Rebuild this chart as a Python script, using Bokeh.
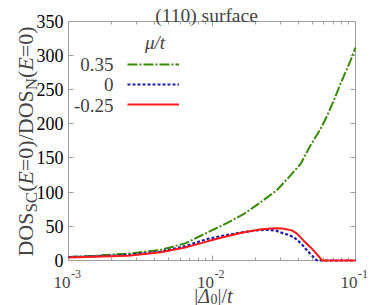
import math
from bokeh.plotting import figure
from bokeh.models import (Label, LogAxis, LinearAxis, Legend, LegendItem,
                          FixedTicker, Range1d)
from bokeh.embed import file_html
from bokeh.resources import INLINE

# ---------------- data ----------------
delta_p035 = [0.001, 0.0015, 0.0026, 0.0044, 0.0065, 0.0093, 0.0125, 0.0167,
              0.0218, 0.0284, 0.0334, 0.0414, 0.0485, 0.0570, 0.0636, 0.0706,
              0.0785, 0.0923, 0.1]
dos_p035 = [5, 7, 10, 15.6, 25, 41, 54, 68, 85, 103, 119, 141, 168, 192, 212,
            234, 258, 292, 311]

delta_0 = [0.001, 0.0015, 0.0026, 0.0044, 0.0065, 0.0093, 0.0125, 0.0167,
           0.0205, 0.0243, 0.028, 0.031, 0.034, 0.0372, 0.042, 0.046, 0.0505,
           0.054, 0.07, 0.1]
dos_0 = [5, 6, 8, 13, 21, 31.5, 37, 41.5, 44, 45, 43.5, 40, 37.5, 34, 24.4,
         14.6, 5.8, 0, 0, 0]

delta_m025 = [0.001, 0.0015, 0.0026, 0.0044, 0.0065, 0.0093, 0.0125, 0.0167,
              0.0215, 0.027, 0.031, 0.036, 0.0393, 0.0435, 0.0485, 0.0535,
              0.0586, 0.07, 0.1]
dos_m025 = [4.5, 5.5, 7, 12, 19, 28, 35, 41.4, 45.3, 47.3, 46.8, 44, 39, 29,
            19.5, 9.8, 0, 0, 0]

mu_labels = ["0.35", "0", "-0.25"]
y_ticks = [0, 50, 100, 150, 200, 250, 300, 350]
x_ticks = [0.001, 0.01, 0.1]
x_tick_exps = ["-3", "-2", "-1"]
x_minor = [k * 10.0 ** e for e in (-3, -2) for k in range(2, 10)]
title_text = "(110) surface"

# ---------------- layout / styling ----------------
FONT = "Liberation Serif"
GRAY = "#a0a0a0"
C_GREEN = "#3a8a0a"
C_BLUE = "#1c1ca8"
C_RED = "#ff1a1a"

W, H = 382, 305
PX_L, PX_R = 68.0, 355.0      # pixel columns of the plot box
PY_T, PY_B = 20.5, 260.0      # pixel rows of the plot box

lx0, lx1 = math.log10(x_ticks[0]), math.log10(x_ticks[-1])
dec_px = (PX_R - PX_L) / (lx1 - lx0)
xr = (10 ** (lx0 - PX_L / dec_px), 10 ** (lx1 + (W - PX_R) / dec_px))
ymax = y_ticks[-1]
upp = ymax / (PY_B - PY_T)
yr = (-(H - PY_B) * upp, ymax + PY_T * upp)

p = figure(width=W, height=H, x_axis_type="log",
           x_range=Range1d(*xr), y_range=Range1d(*yr),
           output_backend="svg", toolbar_location=None,
           min_border=0, min_border_left=0, min_border_right=0,
           min_border_top=0, min_border_bottom=0)
p.xgrid.visible = False
p.ygrid.visible = False
p.outline_line_color = None
p.background_fill_color = "white"
p.border_fill_color = "white"

p.add_layout(LogAxis(), "above")
p.add_layout(LinearAxis(), "right")

xt = FixedTicker(ticks=x_ticks, minor_ticks=x_minor)
yt = FixedTicker(ticks=y_ticks, minor_ticks=[])
for ax in p.axis:
    ax.axis_line_color = GRAY
    ax.major_tick_line_color = GRAY
    ax.minor_tick_line_color = GRAY
    ax.major_tick_in = 5
    ax.major_tick_out = 0
    ax.minor_tick_in = 3
    ax.minor_tick_out = 0
    ax.major_label_text_font = FONT
    ax.major_label_text_color = None
for ax in p.xaxis:
    ax.ticker = xt
    ax.bounds = (x_ticks[0], x_ticks[-1])
for ax in p.yaxis:
    ax.ticker = yt
    ax.bounds = (y_ticks[0], y_ticks[-1])
p.below[0].fixed_location = y_ticks[0]
p.above[0].fixed_location = y_ticks[-1]
p.left[0].fixed_location = x_ticks[0]
p.right[0].fixed_location = x_ticks[-1]
p.left[0].major_label_text_color = "black"
p.left[0].major_label_text_font_size = "18px"
p.left[0].major_label_standoff = 5

r_g = p.line(delta_p035, dos_p035, line_color=C_GREEN, line_width=2,
             line_dash="10 2 2 2", level="overlay")
r_b = p.line(delta_0, dos_0, line_color=C_BLUE, line_width=2.2,
             line_dash="3 2", level="overlay")
r_r = p.line(delta_m025, dos_m025, line_color=C_RED, line_width=2,
             level="overlay")


def sy(page_y):
    """screen y (from bottom of canvas) for a pixel row"""
    return H - page_y


legend = Legend(items=[LegendItem(label=" ", renderers=[r]) for r in (r_g, r_b, r_r)],
                location=(127, sy(54.3 + 60)), glyph_width=52, glyph_height=20,
                label_height=20, label_width=1, spacing=0, padding=0, margin=0,
                border_line_alpha=0, background_fill_alpha=0,
                label_text_font_size="2px", label_text_color=None,
                label_standoff=0)
p.add_layout(legend)

for lab, yy in zip(mu_labels, [64.3, 84.3, 104.8]):
    p.add_layout(Label(x=113, y=sy(yy), x_units="screen", y_units="screen",
                       text=lab, text_align="right", text_baseline="middle",
                       text_font=FONT, text_font_size="19px"))
p.add_layout(Label(x=154.5, y=sy(41.5), x_units="screen", y_units="screen",
                   text="μ/t", text_align="center", text_baseline="middle",
                   text_font=FONT, text_font_size="19px",
                   text_font_style="italic"))

# title
p.add_layout(Label(x=206, y=sy(14.5), x_units="screen", y_units="screen",
                   text=title_text, text_align="center",
                   text_baseline="alphabetic", text_font=FONT,
                   text_font_size="19.5px"))

# x tick labels 10^n
for xv, e in zip(x_ticks, x_tick_exps):
    p.add_layout(Label(x=xv, y=sy(282), x_units="data", y_units="screen",
                       text="10", text_align="right", x_offset=2,
                       text_baseline="alphabetic", text_font=FONT,
                       text_font_size="17px"))
    p.add_layout(Label(x=xv, y=sy(273), x_units="data", y_units="screen",
                       text=e, text_align="left", x_offset=2.5,
                       text_baseline="alphabetic", text_font=FONT,
                       text_font_size="12px"))

# approximate Times advance widths (per 1000 em) for composing labels
ADV = {'D': 722, 'O': 722, 'S': 556, 'C': 667, 'N': 722, '(': 333, ')': 333,
       '=': 564, '0': 500, '/': 278, 'E': 611, '|': 200, 't': 278, 'Δ': 612}


def tw(s, size):
    return sum(ADV[c] for c in s) / 1000.0 * size


# y label: DOS_SC(E=0)/DOS_N(E=0), rotated
ylab = [("DOS", 22, "normal", 0), ("SC", 17, "normal", 1),
        ("(", 22, "normal", 0), ("E", 22, "italic", 0),
        ("=0)/DOS", 22, "normal", 0), ("N", 17, "normal", 1),
        ("(", 22, "normal", 0), ("E", 22, "italic", 0),
        ("=0)", 22, "normal", 0)]
total = sum(tw(s, sz) for s, sz, _, _ in ylab)
pos = sy(141 + total / 2.0)
for s, sz, st, sub in ylab:
    p.add_layout(Label(x=25 + 6 * sub, y=pos, x_units="screen",
                       y_units="screen", text=s, angle=math.pi / 2,
                       text_align="left", text_baseline="alphabetic",
                       text_font=FONT, text_font_size=f"{sz}px",
                       text_font_style=st))
    pos += tw(s, sz)

# x label: |Δ_0|/t
xlab = [("|", 20, "normal", 0), ("Δ", 20, "italic", 0), ("0", 14, "normal", 1),
        ("|/", 20, "normal", 0), ("t", 20, "italic", 0)]
total = sum(tw(s, sz) for s, sz, _, _ in xlab)
pos = 213 - total / 2.0
for s, sz, st, sub in xlab:
    p.add_layout(Label(x=pos, y=sy(295 + 3 * sub), x_units="screen",
                       y_units="screen", text=s, text_align="left",
                       text_baseline="alphabetic", text_font=FONT,
                       text_font_size=f"{sz}px", text_font_style=st))
    pos += tw(s, sz)

open("out.html", "w").write(file_html(p, INLINE))
